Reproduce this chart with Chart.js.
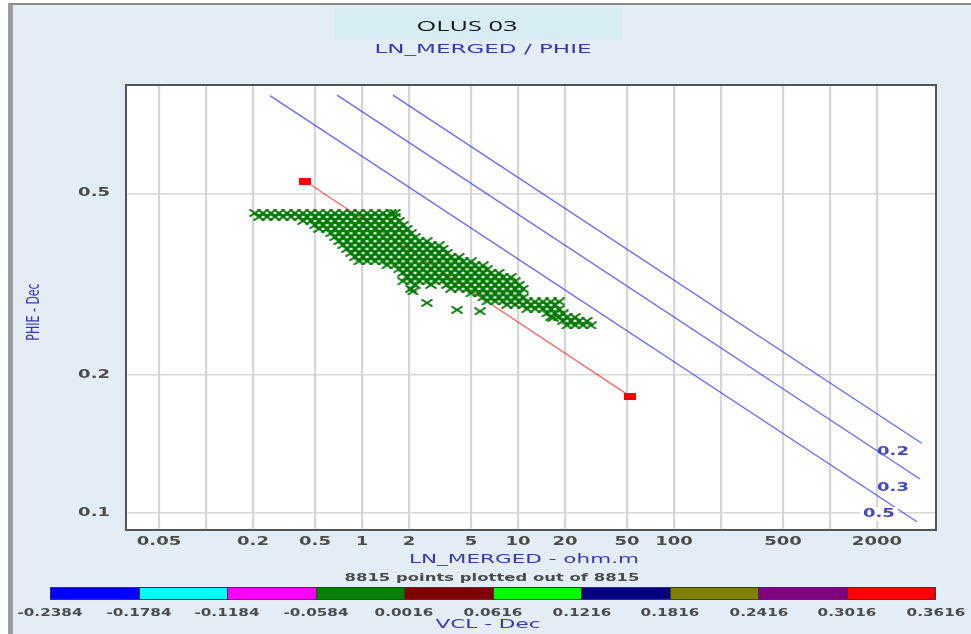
<!DOCTYPE html>
<html>
<head>
<meta charset="utf-8">
<script src="https://cdn.jsdelivr.net/npm/chart.js@4.4.1/dist/chart.umd.min.js"></script>
<style>
  html, body { margin: 0; padding: 0; background: #fff; }
  body { width: 971px; height: 634px; position: relative; overflow: hidden; font-family: "DejaVu Sans", Verdana, sans-serif; }
  #frame { position: absolute; left: 8px; top: 3px; right: 0; bottom: 0; background: #e3edf6;
           border-left: 5px solid #9c9c9c; border-top: 2px solid #8c8c8c; }
  #titleBox { position: absolute; left: 334px; top: 8px; width: 288px; height: 32px; background: #d5edf2; }
  #chart { position: absolute; left: 0; top: 0; }
  .t { position: absolute; white-space: nowrap; line-height: 1; }
  .t span { display: inline-block; transform-origin: center; }
  #cbar { position: absolute; left: 50px; top: 587px; width: 886px; height: 13px; display: flex;
          border: 1px solid #3a3a3a; box-sizing: border-box; }
  #cbar div { flex: 1; border-right: 1px solid #3a3a3a; }
  #cbar div:last-child { border-right: none; }
</style>
</head>
<body>
<div id="frame"></div>
<div id="titleBox"></div>
<canvas id="chart" width="971" height="634"></canvas>
<div id="cbar"></div>
<script>
/* ---------------- data ---------------- */
// x axis (LN_MERGED, ohm.m) grid lines and labelled ticks
const xGridVals = [0.05, 0.1, 0.2, 0.5, 1, 2, 5, 10, 20, 50, 100, 200, 500, 1000, 2000];
const xTickLabels = ['0.05', '0.2', '0.5', '1', '2', '5', '10', '20', '50', '100', '500', '2000'];
// y axis (PHIE, Dec)
const yGridVals = [0.1, 0.2, 0.5];
const yTickLabels = ['0.1', '0.2', '0.5'];

// scatter cloud, read row by row (PHIE value per row, LN_MERGED values in that row)
const phiRows = [0.453, 0.444, 0.435, 0.426, 0.418, 0.409, 0.401, 0.393, 0.385, 0.378,
                 0.370, 0.363, 0.355, 0.348, 0.341, 0.335, 0.328, 0.321, 0.315, 0.309,
                 0.302, 0.296, 0.290, 0.285, 0.279, 0.273, 0.268, 0.263, 0.257];
const rRows = [
  [0.206, 0.232, 0.261, 0.294, 0.331, 0.372, 0.419, 0.471, 0.530, 0.597, 0.671, 0.756, 0.850, 0.957, 1.077, 1.212, 1.364, 1.534, 1.63],
  [0.219, 0.246, 0.277, 0.312, 0.351, 0.395, 0.444, 0.500, 0.563, 0.633, 0.712, 0.802, 0.902, 1.015, 1.142, 1.285, 1.446, 1.628],
  [0.419, 0.471, 0.530, 0.597, 0.671, 0.756, 0.850, 0.957, 1.077, 1.212, 1.364, 1.534, 1.727],
  [0.500, 0.563, 0.633, 0.712, 0.802, 0.902, 1.015, 1.142, 1.285, 1.446, 1.628, 1.832],
  [0.530, 0.597, 0.671, 0.756, 0.850, 0.957, 1.077, 1.212, 1.364, 1.534, 1.727, 1.943],
  [0.633, 0.712, 0.802, 0.902, 1.015, 1.142, 1.285, 1.446, 1.628, 1.832, 2.061],
  [0.671, 0.756, 0.850, 0.957, 1.077, 1.212, 1.364, 1.534, 1.727, 1.943, 2.187],
  [0.712, 0.802, 0.902, 1.015, 1.142, 1.285, 1.446, 1.628, 1.832, 2.061, 2.320, 2.610],
  [0.756, 0.850, 0.957, 1.077, 1.212, 1.364, 1.534, 1.727, 1.943, 2.187, 2.461, 2.769, 3.116],
  [0.802, 0.902, 1.015, 1.142, 1.285, 1.446, 1.628, 1.832, 2.061, 2.320, 2.610, 2.938, 3.306],
  [0.850, 0.957, 1.077, 1.212, 1.364, 1.534, 1.727, 1.943, 2.187, 2.461, 2.769, 3.116, 3.507],
  [0.902, 1.015, 1.142, 1.285, 1.446, 1.628, 1.832, 2.061, 2.320, 2.610, 2.938, 3.306, 3.720, 4.186],
  [0.957, 1.077, 1.212, 1.364, 1.534, 1.727, 1.943, 2.187, 2.461, 2.769, 3.116, 3.507, 3.946, 4.441, 4.997],
  [1.446, 1.628, 1.832, 2.061, 2.320, 2.610, 2.938, 3.306, 3.720, 4.186, 4.711, 5.301, 5.966],
  [1.727, 1.943, 2.187, 2.461, 2.769, 3.116, 3.507, 3.946, 4.441, 4.997, 5.624, 6.328],
  [1.832, 2.061, 2.320, 2.610, 2.938, 3.306, 3.720, 4.186, 4.711, 5.301, 5.966, 6.713, 7.555],
  [1.943, 2.187, 2.461, 2.769, 3.116, 3.507, 3.946, 4.441, 4.997, 5.624, 6.328, 7.121, 8.014, 9.018],
  [1.832, 2.061, 2.320, 2.610, 2.938, 3.306, 3.720, 4.186, 4.711, 5.301, 5.966, 6.713, 7.555, 8.501, 9.567],
  [2.187, 2.769, 3.507, 3.946, 4.441, 4.997, 5.624, 6.328, 7.121, 8.014, 9.018, 10.15],
  [2.061, 3.720, 4.186, 4.711, 5.301, 5.966, 6.713, 7.555, 8.501, 9.567, 10.77],
  [4.997, 5.624, 6.328, 7.121, 8.014, 9.018, 10.15],
  [5.966, 6.713, 7.555, 8.501, 9.567, 10.77],
  [6.328, 7.121, 8.014, 9.018, 10.15, 11.42, 12.85, 14.46, 16.27, 18.31],
  [8.501, 9.567, 10.77, 12.11, 13.63, 15.34, 17.26],
  [11.42, 12.85, 14.46, 16.27, 18.31],
  [15.34, 17.26, 19.42],
  [16.27, 18.31, 20.60, 23.19],
  [19.42, 21.86, 24.60, 27.68],
  [20.60, 23.19, 26.09, 29.36]
];
// isolated points below the cloud
const strayR = [2.12, 2.61, 4.07, 5.71, 16.8];
const strayPhi = [0.305, 0.288, 0.278, 0.276, 0.267];

// water saturation iso-lines (end points) and their labels
const swNames = ['0.2', '0.3', '0.5'];
const swR = [[1.58, 3873], [0.692, 3776], [0.257, 3614]];
const swPhi = [[0.820, 0.142], [0.820, 0.1186], [0.818, 0.0956]];
const swLabelR = [2535, 2535, 2061];
const swLabelPhi = [0.1358, 0.1132, 0.0994];

// water line (Sw = 1) with its two handles
const waterR = [0.431, 52.2];
const waterPhi = [0.532, 0.180];

// VCL colour scale
const vclTicks = ['-0.2384', '-0.1784', '-0.1184', '-0.0584', '0.0016', '0.0616', '0.1216', '0.1816', '0.2416', '0.3016', '0.3616'];
const vclColors = ['#0000ff', '#00ffff', '#ff00ff', '#008000', '#800000', '#00ff00', '#000080', '#808000', '#800080', '#ff0000'];

/* ---------------- helpers ---------------- */
const TICK_FONT = 'bold 12px "DejaVu Sans", Verdana, sans-serif';
const TICK_COLOR = '#4b4b4b';
const STRETCH = 1.5; // the reference text is drawn horizontally widened

function markCanvas(w, h, draw) {
  const c = document.createElement('canvas');
  c.width = w; c.height = h;
  draw(c.getContext('2d'));
  return c;
}
const crossMark = markCanvas(12, 8, (g) => {
  g.strokeStyle = '#047a04'; g.lineWidth = 1.9;
  g.beginPath(); g.moveTo(0.5, 0.5); g.lineTo(11.5, 7.5); g.moveTo(0.5, 7.5); g.lineTo(11.5, 0.5); g.stroke();
});
const squareMark = markCanvas(12, 7, (g) => { g.fillStyle = '#ff0000'; g.fillRect(0, 0, 12, 7); });

function stretchText(ctx, text, x, y, k, align) {
  ctx.save();
  ctx.translate(x, y); ctx.scale(k, 1);
  ctx.textAlign = align; ctx.textBaseline = 'middle';
  ctx.fillText(text, 0, 0);
  ctx.restore();
}

// html text, centred on (x, y), widened to a target width (or fixed factor)
function addText(text, x, y, opts) {
  const d = document.createElement('div');
  d.className = 't';
  d.style.left = x + 'px'; d.style.top = y + 'px';
  d.style.zIndex = 5;
  const s = document.createElement('span');
  s.textContent = text;
  s.style.font = opts.font; s.style.color = opts.color;
  d.appendChild(s);
  document.body.appendChild(d);
  const k = opts.w ? opts.w / s.getBoundingClientRect().width : (opts.k || 1);
  s.style.transform = 'translate(-50%,-50%) scaleX(' + k.toFixed(3) + ')' + (opts.rot ? ' rotate(-90deg)' : '');
}

/* ---------------- frame texts ---------------- */
addText('OLUS 03', 467, 25, { font: '14px "Open Sans", "DejaVu Sans", sans-serif', color: '#111', w: 101 });
addText('LN_MERGED / PHIE', 483, 47, { font: '13px "DejaVu Sans", Verdana, sans-serif', color: '#3838b0', w: 217 });
addText('PHIE - Dec', 33, 309, { font: '11px "DejaVu Sans", Verdana, sans-serif', color: '#3838b0', k: 1.6, rot: true });
addText('LN_MERGED - ohm.m', 524, 557, { font: '13px "DejaVu Sans", Verdana, sans-serif', color: '#3838b0', w: 230 });
addText('8815 points plotted out of 8815', 492, 573, { font: 'bold 10px "DejaVu Sans", Verdana, sans-serif', color: '#4b4b4b', w: 295 });
addText('VCL - Dec', 488, 622, { font: '13px "DejaVu Sans", Verdana, sans-serif', color: '#3838b0', w: 105 });

/* colour bar */
const cbar = document.getElementById('cbar');
vclColors.forEach((c) => { const seg = document.createElement('div'); seg.style.background = c; cbar.appendChild(seg); });
const cbLeft = 50, cbWidth = 886;
vclTicks.forEach((t, i) => {
  addText(t, cbLeft + i * cbWidth / vclColors.length, 609, { font: 'bold 10.5px "DejaVu Sans", Verdana, sans-serif', color: '#4b4b4b', k: 1.45 });
});

/* ---------------- chart ---------------- */
const cloud = [];
phiRows.forEach((phi, i) => rRows[i].forEach((r) => cloud.push({ x: r, y: phi })));
strayR.forEach((r, i) => cloud.push({ x: r, y: strayPhi[i] }));

const swDatasets = swNames.map((n, i) => ({
  label: 'Sw ' + n, type: 'scatter', showLine: true,
  data: [{ x: swR[i][0], y: swPhi[i][0] }, { x: swR[i][1], y: swPhi[i][1] }],
  borderColor: 'rgba(40,40,255,0.7)', borderWidth: 1.3, pointRadius: 0
}));

const plotDecor = {
  id: 'plotDecor',
  beforeDraw(chart) {
    const { ctx, chartArea: a } = chart;
    ctx.save(); ctx.fillStyle = '#fff'; ctx.fillRect(a.left, a.top, a.right - a.left, a.bottom - a.top); ctx.restore();
  },
  afterDraw(chart) {
    const { ctx, chartArea: a, scales: { x, y } } = chart;
    ctx.save();
    ctx.strokeStyle = '#555'; ctx.lineWidth = 2;
    ctx.strokeRect(a.left, a.top, a.right - a.left, a.bottom - a.top);
    ctx.font = TICK_FONT; ctx.fillStyle = TICK_COLOR;
    xTickLabels.forEach((t) => stretchText(ctx, t, x.getPixelForValue(parseFloat(t)), a.bottom + 12, STRETCH, 'center'));
    yTickLabels.forEach((t) => stretchText(ctx, t, a.left - 16, y.getPixelForValue(parseFloat(t)), STRETCH, 'right'));
    // saturation labels
    ctx.fillStyle = '#4646c8';
    swNames.forEach((n, i) => {
      const px = x.getPixelForValue(swLabelR[i]), py = y.getPixelForValue(swLabelPhi[i]);
      if (i === swNames.length - 1) {
        const w = ctx.measureText(n).width * STRETCH;
        ctx.save(); ctx.fillStyle = '#fff'; ctx.fillRect(px - w / 2 - 3, py - 7, w + 6, 14); ctx.restore();
      }
      stretchText(ctx, n, px, py, STRETCH, 'center');
    });
    ctx.restore();
  }
};

new Chart(document.getElementById('chart'), {
  type: 'scatter',
  data: {
    datasets: [
      { label: 'PHIE', data: cloud, pointStyle: crossMark, pointRadius: 5, pointHoverRadius: 5 },
      ...swDatasets,
      { label: 'Water', type: 'scatter', showLine: true,
        data: [{ x: waterR[0], y: waterPhi[0] }, { x: waterR[1], y: waterPhi[1] }],
        borderColor: 'rgba(255,0,0,0.6)', borderWidth: 1.3, pointStyle: squareMark, pointRadius: 6 }
    ]
  },
  options: {
    responsive: false, animation: false, devicePixelRatio: 1,
    layout: { padding: { left: 0, top: 85, right: 35, bottom: 64 } },
    plugins: { legend: { display: false }, tooltip: { enabled: false } },
    scales: {
      x: {
        type: 'logarithmic', min: 0.0307, max: 4784,
        ticks: { display: false },
        grid: { color: '#d6d6d6', lineWidth: 2.2, drawTicks: false },
        border: { display: false },
        afterBuildTicks: (s) => { s.ticks = xGridVals.map((v) => ({ value: v })); },
        afterFit: (s) => { s.height = 40; }
      },
      y: {
        type: 'logarithmic', min: 0.0917, max: 0.863,
        ticks: { display: false },
        grid: { color: '#d6d6d6', lineWidth: 1.5, drawTicks: false },
        border: { display: false },
        afterBuildTicks: (s) => { s.ticks = yGridVals.map((v) => ({ value: v })); },
        afterFit: (s) => { s.width = 126; }
      }
    }
  },
  plugins: [plotDecor]
});
</script>
</body>
</html>
